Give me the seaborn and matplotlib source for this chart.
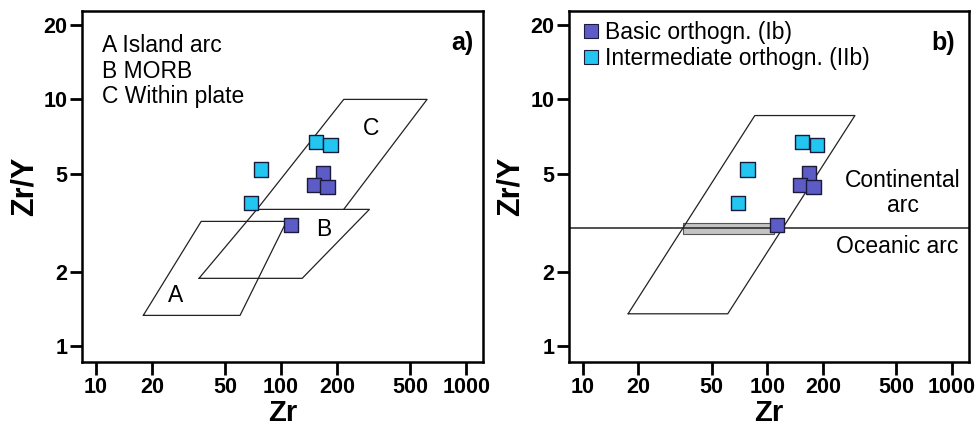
import numpy as np
import pandas as pd
import seaborn as sns
import matplotlib.pyplot as plt
from matplotlib.lines import Line2D

sns.set_style('white')
plt.rcParams['font.family'] = ['Liberation Sans', 'DejaVu Sans']
plt.rcParams.update({'text.color': 'black', 'axes.labelcolor': 'black',
                     'xtick.color': 'black', 'ytick.color': 'black'})

# sample data (Zr ppm, Zr/Y)
basic_zr = [168, 150, 178, 113]
basic_zry = [5.0, 4.5, 4.4, 3.1]
inter_zr = [154, 185, 78, 69]
inter_zry = [6.7, 6.55, 5.2, 3.8]
groups = ['Basic orthogn. (Ib)', 'Intermediate orthogn. (IIb)']
colors = ['#5d5cc6', '#22c6f0']

# discrimination fields, panel a (Pearce & Norry)
field_a_x = [18, 37, 107, 60, 18]
field_a_y = [1.33, 3.2, 3.2, 1.33, 1.33]
field_b_x = [36, 74, 300, 130, 36]
field_b_y = [1.88, 3.58, 3.58, 1.88, 1.88]
field_c_x = [74, 218, 615, 218]
field_c_y = [3.58, 10, 10, 3.58]
# panel b field and arc boundary
field_arc_x = [17.6, 85.5, 298, 61, 17.6]
field_arc_y = [1.35, 8.6, 8.6, 1.35, 1.35]
arc_limit = 3.0
band_x = [35, 108]
band_y = [2.85, 3.15]

xticks = [10, 20, 50, 100, 200, 500, 1000]
yticks = [1, 2, 5, 10, 20]

df = pd.DataFrame({
    'Zr': basic_zr + inter_zr,
    'ZrY': basic_zry + inter_zry,
    'group': [groups[0]] * len(basic_zr) + [groups[1]] * len(inter_zr),
})

fig = plt.figure(figsize=(9.79, 4.29), dpi=100)
ax1 = fig.add_axes([0.0838, 0.156, 0.41, 0.818])
ax2 = fig.add_axes([0.581, 0.156, 0.409, 0.818])

line_kw = dict(color='#222222', lw=0.9)
txt = 16.5

def style(ax):
    ax.set_xscale('log')
    ax.set_yscale('log')
    ax.set_xlim(8.4, 1240)
    ax.set_ylim(0.86, 22.8)
    ax.set_xticks(xticks)
    ax.set_xticklabels([str(t) for t in xticks])
    ax.set_yticks(yticks)
    ax.set_yticklabels([str(t) for t in yticks])
    ax.minorticks_off()
    ax.tick_params(axis='both', which='major', direction='out', length=9, width=2,
                   labelsize=15.5, pad=1.5, bottom=True, left=True)
    for lab in ax.get_xticklabels() + ax.get_yticklabels():
        lab.set_fontweight('bold')
    for sp in ax.spines.values():
        sp.set_linewidth(1.8)
        sp.set_color('black')
    ax.set_xlabel('Zr', fontsize=21, fontweight='bold', labelpad=1)
    ax.set_ylabel('Zr/Y', fontsize=22, fontweight='bold', labelpad=3)

# panel a
ax1.plot(field_a_x, field_a_y, **line_kw)
ax1.plot(field_b_x, field_b_y, **line_kw)
ax1.plot(field_c_x, field_c_y, **line_kw)
sns.scatterplot(data=df, x='Zr', y='ZrY', hue='group', hue_order=groups, palette=colors,
                marker='s', s=105, edgecolor='#1a1a3a', linewidth=1.0, ax=ax1, legend=False,
                zorder=3)
style(ax1)
ax1.text(0.049, 0.935, 'A Island arc\nB MORB\nC Within plate', transform=ax1.transAxes,
         fontsize=txt, va='top', ha='left', linespacing=1.15)
ax1.text(0.975, 0.91, 'a)', transform=ax1.transAxes, fontsize=18, fontweight='bold',
         ha='right', va='center')
ax1.text(26.8, 1.6, 'A', fontsize=txt, ha='center', va='center')
ax1.text(170, 2.97, 'B', fontsize=txt, ha='center', va='center')
ax1.text(306, 7.65, 'C', fontsize=txt, ha='center', va='center')

# panel b
ax2.plot(field_arc_x, field_arc_y, **line_kw)
ax2.axhline(arc_limit, color='#222222', lw=1.1)
ax2.fill_between(band_x, band_y[0], band_y[1], color='#c4c4c4', edgecolor='#555555',
                 lw=0.8, zorder=1)
sns.scatterplot(data=df, x='Zr', y='ZrY', hue='group', hue_order=groups, palette=colors,
                marker='s', s=105, edgecolor='#1a1a3a', linewidth=1.0, ax=ax2, legend=False,
                zorder=3)
style(ax2)
ax2.text(541, 4.16, 'Continental\narc', fontsize=txt, ha='center', va='center',
         linespacing=1.1)
ax2.text(503, 2.52, 'Oceanic arc', fontsize=txt, ha='center', va='center')
ax2.text(0.965, 0.91, 'b)', transform=ax2.transAxes, fontsize=18, fontweight='bold',
         ha='right', va='center')
handles = [Line2D([], [], marker='s', ls='', markersize=10, markerfacecolor=c,
                  markeredgecolor='#1a1a3a', markeredgewidth=0.8) for c in colors]
ax2.legend(handles, groups, loc='upper left', bbox_to_anchor=(0.0, 1.0), frameon=False,
           fontsize=txt, handletextpad=0.15, borderaxespad=0.2, labelspacing=0.1,
           handlelength=1.0, borderpad=0.25)

fig.savefig('out.png', dpi=100)
